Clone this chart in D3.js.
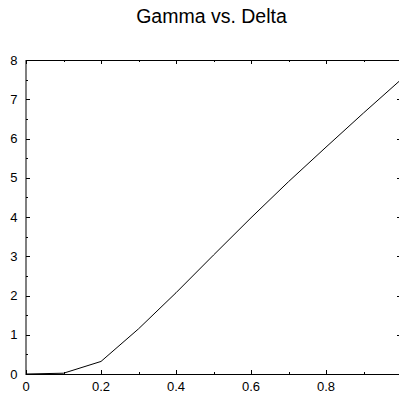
<!DOCTYPE html>
<html>
<head>
<meta charset="utf-8">
<script src="https://cdn.jsdelivr.net/npm/d3@7"></script>
<style>
  body { margin: 0; background: #fff; }
  svg { display: block; }
  text { font-family: "Liberation Sans", Arial, sans-serif; fill: #000; }
</style>
</head>
<body>
<div id="chart"></div>
<script>
const title = 'Gamma vs. Delta';
const xs = [0, 0.1, 0.2, 0.3, 0.4, 0.5, 0.6, 0.7, 0.8, 0.9, 1.0];
const ys = [0, 0.02, 0.32, 1.15, 2.07, 3.03, 3.98, 4.9, 5.78, 6.65, 7.5];
const xTicks = [0, 0.2, 0.4, 0.6, 0.8];
const xMinor = [0.1, 0.3, 0.5, 0.7, 0.9];
const yTicks = [0, 1, 2, 3, 4, 5, 6, 7, 8];
const yMinor = [0.5, 1.5, 2.5, 3.5, 4.5, 5.5, 6.5, 7.5];

const width = 399, height = 394;
const plotL = 26, plotR = 401, plotT = 60, plotB = 374;

const x = d3.scaleLinear().domain([0, 1]).range([plotL, plotR]);
const y = d3.scaleLinear().domain([0, 8]).range([plotB, plotT]);

const svg = d3.select('#chart')
    .append('svg')
    .attr('width', width)
    .attr('height', height);

svg.append('text')
    .attr('x', 211.5)
    .attr('y', 22.5)
    .attr('text-anchor', 'middle')
    .style('font-size', '19.5px')
    .text(title);

// frame
svg.append('rect')
    .attr('x', plotL).attr('y', plotT + 0.5)
    .attr('width', plotR - plotL).attr('height', plotB - plotT)
    .attr('fill', 'none')
    .attr('stroke', '#000')
    .attr('stroke-width', 1);

const ticks = svg.append('g').attr('stroke', '#000').attr('stroke-width', 1);

// x ticks, bottom and top, pointing inward
const addX = (vals, len) => {
    vals.forEach(v => {
        const px = Math.round(x(v)) + 0.5;
        ticks.append('line').attr('x1', px).attr('x2', px).attr('y1', plotB).attr('y2', plotB - len);
        ticks.append('line').attr('x1', px).attr('x2', px).attr('y1', plotT).attr('y2', plotT + len);
    });
};
addX(xTicks, 4);
addX(xMinor, 2);

const addY = (vals, len) => {
    vals.forEach(v => {
        const py = Math.round(y(v)) + 0.5;
        ticks.append('line').attr('x1', plotL).attr('x2', plotL + len).attr('y1', py).attr('y2', py);
        ticks.append('line').attr('x1', plotR).attr('x2', plotR - len).attr('y1', py).attr('y2', py);
    });
};
addY(yTicks, 4);
addY(yMinor, 2);

svg.append('g').selectAll('text')
    .data(xTicks)
    .enter()
    .append('text')
    .attr('x', d => x(d))
    .attr('y', 390.5)
    .attr('text-anchor', 'middle')
    .style('font-size', '13px')
    .text(d => d3.format('~g')(d));

svg.append('g').selectAll('text')
    .data(yTicks)
    .enter()
    .append('text')
    .attr('x', 17.5)
    .attr('y', d => y(d) + 4.7)
    .attr('text-anchor', 'end')
    .style('font-size', '13px')
    .text(d => d);

const line = d3.line()
    .x((d, i) => x(xs[i]))
    .y(d => y(d));

svg.append('path')
    .datum(ys)
    .attr('d', line)
    .attr('fill', 'none')
    .attr('stroke', '#000')
    .attr('stroke-width', 1);
</script>
</body>
</html>
